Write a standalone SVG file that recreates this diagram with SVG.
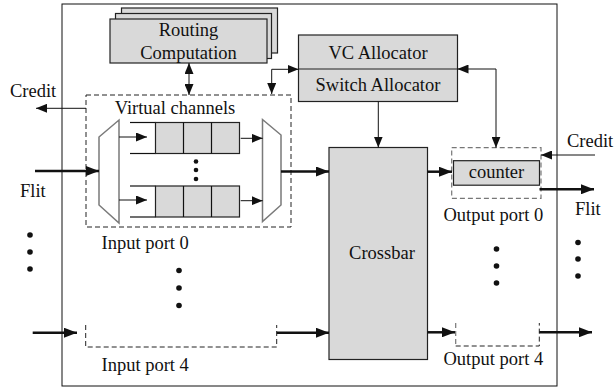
<svg xmlns="http://www.w3.org/2000/svg" width="615" height="388" viewBox="0 0 615 388" font-family="'Liberation Serif', 'DejaVu Serif', serif">
<defs>
<style>
text{font-family:'Liberation Serif','Times New Roman',serif;font-size:18.5px;fill:#111}
.box{fill:#d9d9d9;stroke:#222;stroke-width:1.2}
.mux{fill:#fff;stroke:#7a7a7a;stroke-width:1.5}
.thin{fill:none;stroke:#111;stroke-width:1}
.thick{fill:none;stroke:#111;stroke-width:2.5}
.dash{fill:none;stroke:#222;stroke-width:1;stroke-dasharray:5,3}
.dashg{fill:none;stroke:#777;stroke-width:1.2;stroke-dasharray:5,3}
.dot{fill:#111}
</style>
<marker id="ab" markerUnits="userSpaceOnUse" markerWidth="13" markerHeight="10" refX="13" refY="5" orient="auto-start-reverse"><path d="M0,0 L13,5 L0,10 z" fill="#111"/></marker>
<marker id="as" markerUnits="userSpaceOnUse" markerWidth="11" markerHeight="9" refX="11" refY="4.5" orient="auto-start-reverse"><path d="M0,0 L11,4.5 L0,9 z" fill="#111"/></marker>
</defs>
<rect x="62" y="4" width="495" height="382" fill="#fff" stroke="#111" stroke-width="1"/>

<g id="routing">
<rect class="box" x="121.5" y="8" width="156" height="45"/>
<rect class="box" x="115.5" y="13.5" width="156" height="45"/>
<rect class="box" x="110" y="19" width="157" height="44"/>
<text x="188.5" y="36" text-anchor="middle">Routing</text>
<text x="188.5" y="59" text-anchor="middle">Computation</text>
</g>

<g id="allocator">
<rect class="box" x="298.5" y="35" width="159" height="66.5"/>
<line x1="298.5" y1="69" x2="457.5" y2="69" stroke="#222" stroke-width="1.2"/>
<text x="378" y="58.5" text-anchor="middle">VC Allocator</text>
<text x="378" y="91" text-anchor="middle">Switch Allocator</text>
</g>

<g id="input-port-0">
<rect class="dash" x="86" y="95" width="205" height="132"/>
<text x="175" y="113.5" text-anchor="middle">Virtual channels</text>
<polygon class="mux" points="99,137 119,120 119,223 99,205"/>
<polygon class="mux" points="262.5,119.5 281,135 281,205 262.5,221.5"/>
<line x1="130" y1="122.5" x2="155.5" y2="122.5" stroke="#111" stroke-width="1.2"/>
<line x1="130" y1="153.5" x2="155.5" y2="153.5" stroke="#111" stroke-width="1.2"/>
<rect class="box" x="155.5" y="122.5" width="84" height="31"/>
<line x1="183.5" y1="122.5" x2="183.5" y2="153.5" stroke="#111" stroke-width="1.2"/>
<line x1="211.5" y1="122.5" x2="211.5" y2="153.5" stroke="#111" stroke-width="1.2"/>
<line x1="130" y1="186" x2="155.5" y2="186" stroke="#111" stroke-width="1.2"/>
<line x1="130" y1="217" x2="155.5" y2="217" stroke="#111" stroke-width="1.2"/>
<rect class="box" x="155.5" y="186" width="84" height="31"/>
<line x1="183.5" y1="186" x2="183.5" y2="217" stroke="#111" stroke-width="1.2"/>
<line x1="211.5" y1="186" x2="211.5" y2="217" stroke="#111" stroke-width="1.2"/>
<circle class="dot" cx="196" cy="161.5" r="2.3"/>
<circle class="dot" cx="196" cy="170" r="2.3"/>
<circle class="dot" cx="196" cy="179" r="2.3"/>
<text x="101.5" y="248.5">Input port 0</text>
</g>

<g id="input-port-4">
<path class="dash" d="M85.7,325 V347 H276.7 V325"/>
<text x="101.5" y="370.5">Input port 4</text>
</g>

<g id="crossbar">
<rect class="box" x="329" y="147.5" width="98.5" height="212"/>
<text x="382" y="258.5" text-anchor="middle">Crossbar</text>
</g>

<g id="output-port-0">
<rect class="dashg" x="451.7" y="147.7" width="89.3" height="50.6"/>
<rect class="box" x="453.5" y="160.7" width="86" height="24.5"/>
<text x="496.5" y="177.5" text-anchor="middle">counter</text>
<text x="443.5" y="221">Output port 0</text>
</g>

<g id="output-port-4">
<path class="dashg" d="M455.7,323 V346"/>
<path class="dash" d="M455.7,346 H539.3 V323"/>
<text x="443.5" y="365">Output port 4</text>
</g>

<g id="labels">
<text x="10" y="97">Credit</text>
<text x="20" y="197">Flit</text>
<text x="567" y="147">Credit</text>
<text x="575" y="215">Flit</text>
<circle class="dot" cx="30" cy="235" r="2.8"/>
<circle class="dot" cx="30" cy="252" r="2.8"/>
<circle class="dot" cx="30" cy="269" r="2.8"/>
<circle class="dot" cx="179" cy="270.5" r="2.8"/>
<circle class="dot" cx="179" cy="288" r="2.8"/>
<circle class="dot" cx="179" cy="305.5" r="2.8"/>
<circle class="dot" cx="496.5" cy="249" r="2.8"/>
<circle class="dot" cx="496.5" cy="266" r="2.8"/>
<circle class="dot" cx="496.5" cy="283" r="2.8"/>
<circle class="dot" cx="578" cy="242.5" r="2.8"/>
<circle class="dot" cx="578" cy="259" r="2.8"/>
<circle class="dot" cx="578" cy="276" r="2.8"/>
</g>

<g id="connectors">
<line class="thin" x1="189" y1="63" x2="189" y2="95" marker-start="url(#as)" marker-end="url(#as)"/>
<polyline class="thin" points="271.7,94 271.7,69.3 298.5,69.3" marker-start="url(#as)" marker-end="url(#as)"/>
<polyline class="thin" points="457.5,69 496,69 496,147.7" marker-start="url(#as)" marker-end="url(#as)"/>
<line class="thin" x1="378.3" y1="101.5" x2="378.3" y2="147.5" marker-end="url(#as)"/>
<line class="thin" x1="86" y1="108.3" x2="36" y2="108.3" marker-end="url(#as)"/>
<line class="thick" x1="35" y1="171" x2="99" y2="171" marker-end="url(#ab)"/>
<line class="thin" x1="119" y1="137" x2="147" y2="137" marker-end="url(#as)"/>
<line class="thin" x1="119" y1="200" x2="147" y2="200" marker-end="url(#as)"/>
<line class="thin" x1="240.7" y1="138.3" x2="262.7" y2="138.3" marker-end="url(#as)"/>
<line class="thin" x1="240.7" y1="200.7" x2="262.7" y2="200.7" marker-end="url(#as)"/>
<line class="thick" x1="281" y1="171.5" x2="329" y2="171.5" marker-end="url(#ab)"/>
<line class="thick" x1="427.5" y1="171.7" x2="452" y2="171.7" marker-end="url(#ab)"/>
<line class="thin" x1="595" y1="155" x2="541" y2="155" marker-end="url(#as)"/>
<line class="thick" x1="539.5" y1="189.3" x2="594" y2="189.3" marker-end="url(#ab)"/>
<line class="thick" x1="32.7" y1="332.7" x2="77" y2="332.7" marker-end="url(#ab)"/>
<line class="thick" x1="276.7" y1="332.7" x2="329" y2="332.7" marker-end="url(#ab)"/>
<line class="thick" x1="427.5" y1="332.3" x2="455" y2="332.3" marker-end="url(#ab)"/>
<line class="thick" x1="539.3" y1="332.3" x2="592" y2="332.3" marker-end="url(#ab)"/>
</g>
</svg>
